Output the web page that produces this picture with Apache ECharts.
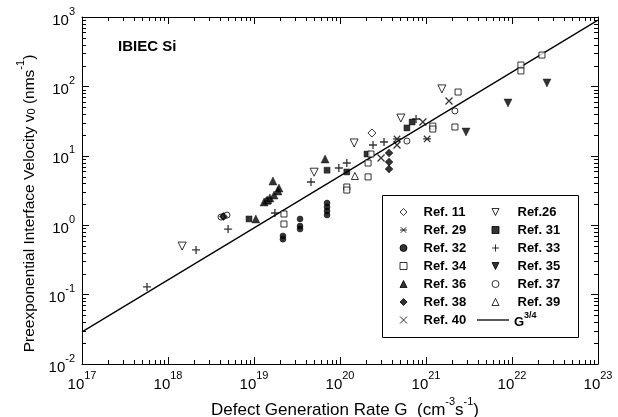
<!DOCTYPE html>
<html>
<head>
<meta charset="utf-8">
<script src="https://cdn.jsdelivr.net/npm/echarts@6/dist/echarts.min.js"></script>
<style>html,body{margin:0;padding:0;background:#fff;}#chart{width:618px;height:417px;}</style>
</head>
<body>
<div id="chart"></div>
<script>
// ---- axis ranges and tick labels (exponents of 10)
const xRange = [1e17, 1e23];
const yRange = [1e-2, 1e3];
const xTickExp = [17, 18, 19, 20, 21, 22, 23];
const yTickExp = [-2, -1, 0, 1, 2, 3];
const minorMult = [2, 3, 4, 5, 6, 7, 8, 9];

// ---- data: [G (cm^-3 s^-1), v0 (nm/s)]
const ref11 = [[2.35e20, 21.3]];
const ref26 = [[1.46e18, 0.50], [5.0e19, 5.8], [1.46e20, 15.3], [5.1e20, 35], [1.53e21, 92]];
const ref29 = [[4.6e20, 17.5], [1.03e21, 17.5]];
const ref31 = [[8.75e18, 1.23], [7.07e19, 6.2], [1.2e20, 5.85], [2.06e20, 10.6], [6.0e20, 25.2], [6.9e20, 30.7]];
const ref32 = [[2.17e19, 0.70], [2.17e19, 0.63], [3.43e19, 1.23], [3.43e19, 0.97], [3.43e19, 0.88],
               [7.07e19, 2.09], [7.07e19, 1.83], [7.07e19, 1.6], [7.07e19, 1.4]];
const ref33 = [[5.7e17, 0.129], [2.12e18, 0.44], [5.0e18, 0.88], [1.75e19, 1.5], [4.6e19, 4.19],
               [9.7e19, 6.67], [1.2e20, 7.87], [2.42e20, 14.3], [3.25e20, 15.8], [7.66e20, 33.9]];
const ref34 = [[1.46e19, 2.23], [2.23e19, 1.45], [2.23e19, 1.04], [1.2e20, 3.55], [1.2e20, 3.21],
               [2.12e20, 4.96], [2.12e20, 7.87], [2.29e20, 10.6], [1.2e21, 26.8], [1.2e21, 24.3],
               [2.17e21, 26], [2.36e21, 83], [1.27e22, 203], [1.27e22, 167], [2.23e22, 283]];
const ref35 = [[2.92e21, 22], [8.98e21, 57.7], [2.55e22, 112]];
const ref36 = [[1.05e19, 1.23], [1.31e19, 2.16], [1.42e19, 2.31], [1.53e19, 2.47], [1.71e19, 2.72],
               [1.9e19, 3.11], [1.95e19, 3.44], [1.66e19, 4.34], [6.7e19, 9.0]];
const ref37 = [[4.13e18, 1.31], [4.48e18, 1.35], [4.85e18, 1.40], [6.0e20, 16.3], [2.17e21, 44.3]];
const ref38 = [[4.4e18, 1.33], [3.72e20, 11.0], [3.72e20, 8.15], [3.72e20, 6.46]];
const ref39 = [[1.49e20, 5.12]];
const ref40 = [[3.0e20, 9.3], [4.6e20, 14.3], [9.2e20, 30.7], [1.85e21, 61.7]];
// G^(3/4) guide line end points
const fitG = [1e17, 1e23];
const fitV = [0.029, 900];

const FONT = "'Liberation Sans', Arial, Helvetica, sans-serif";
const PLUS = 'path://M5,0L5,10M0,5L10,5';
const CROSS = 'path://M0,0L10,10M10,0L0,10';
const ASTER = 'path://M1,1L9,9M9,1L1,9M0,5L10,5';
const TRI_DOWN = 'path://M0,0L10,0L5,10Z';

function mk(name, data, symbol, size, kind, rot) {
  let itemStyle;
  if (kind === 'fill') itemStyle = {color: '#000', borderColor: '#000', borderWidth: 0.5};
  else if (kind === 'open') itemStyle = {color: '#fff', borderColor: '#000', borderWidth: 1};
  else itemStyle = {color: '#000', borderColor: '#000', borderWidth: 1.3};
  return {
    type: 'scatter', name: name, data: data, symbol: symbol, symbolSize: size,
    symbolRotate: rot || 0, symbolKeepAspect: true, itemStyle: itemStyle,
    emphasis: {disabled: true}, z: 4, xAxisIndex: 0, yAxisIndex: 0
  };
}

function minorTicks(axis) {
  const vals = [];
  const exps = (axis === 'x' ? xTickExp : yTickExp).slice(0, -1);
  exps.forEach(e => minorMult.forEach(m => vals.push(m * Math.pow(10, e))));
  return {
    type: 'custom', name: 'minor-' + axis, silent: true, z: 2, clip: false,
    xAxisIndex: 0, yAxisIndex: 0,
    data: vals.map(v => axis === 'x' ? [v, 1] : [1e20, v]),
    renderItem: function (params, api) {
      const cs = params.coordSys;
      const p = api.coord([api.value(0), api.value(1)]);
      const L = 4;
      const st = {stroke: '#000', lineWidth: 1};
      if (axis === 'x') {
        const x = Math.round(p[0]) + 0.5;
        const b = cs.y + cs.height, t = cs.y;
        return {type: 'group', children: [
          {type: 'line', shape: {x1: x, y1: b, x2: x, y2: b - L}, style: st},
          {type: 'line', shape: {x1: x, y1: t, x2: x, y2: t + L}, style: st}]};
      } else {
        const y = Math.round(p[1]) + 0.5;
        const l = cs.x, r = cs.x + cs.width;
        return {type: 'group', children: [
          {type: 'line', shape: {x1: l, y1: y, x2: l + L, y2: y}, style: st},
          {type: 'line', shape: {x1: r, y1: y, x2: r - L, y2: y}, style: st}]};
      }
    }
  };
}

const expLabel = v => '{b|10}{e|' + Math.round(Math.log10(v)) + '}';
const labRich = {
  b: {fontSize: 15, fontFamily: FONT, color: '#000', lineHeight: 22, verticalAlign: 'bottom'},
  e: {fontSize: 11, fontFamily: FONT, color: '#000', lineHeight: 10, verticalAlign: 'top'}
};
const lineSt = {color: '#000', width: 1};

function axis(kind, pos, range, main) {
  return {
    type: 'log', logBase: 10, min: range[0], max: range[1], position: pos,
    splitNumber: kind === 'x' ? 6 : 5,
    axisLine: {show: true, onZero: false, lineStyle: lineSt},
    axisTick: {show: true, inside: true, length: 7, lineStyle: lineSt},
    splitLine: {show: false}, minorTick: {show: false},
    axisLabel: main ? {
      show: true, margin: kind === 'x' ? 6 : 7, formatter: expLabel, rich: labRich,
      showMinLabel: true, showMaxLabel: true, hideOverlap: false
    } : {show: false}
  };
}

const xMain = axis('x', 'bottom', xRange, true);
xMain.name = '{t|Defect Generation Rate G  (cm}{s|-3}{t|s}{s|-1}{t|)}';
xMain.nameLocation = 'middle';
xMain.nameGap = 25;
xMain.nameTextStyle = {
  padding: [0, 0, 0, 10],
  rich: {
    t: {fontSize: 17, fontFamily: FONT, color: '#000', lineHeight: 22, verticalAlign: 'bottom'},
    s: {fontSize: 11, fontFamily: FONT, color: '#000', lineHeight: 10, verticalAlign: 'top'}
  }
};
const yMain = axis('y', 'left', yRange, true);
yMain.name = '{t|Preexponential Interface Velocity v}{u|0}{t| (nms}{s|-1}{t|)}';
yMain.nameLocation = 'middle';
yMain.nameRotate = 90;
yMain.nameGap = 27;
yMain.nameTextStyle = {
  padding: [0, 26, 0, 0],
  rich: {
    t: {fontSize: 15.5, fontFamily: FONT, color: '#000', lineHeight: 22, verticalAlign: 'bottom'},
    s: {fontSize: 11, fontFamily: FONT, color: '#000', lineHeight: 10, verticalAlign: 'top'},
    u: {fontSize: 11, fontFamily: FONT, color: '#000', lineHeight: 12, verticalAlign: 'bottom'}
  }
};

function legendCol(left, top, padL, names) {
  return {
    orient: 'vertical', padding: 0, itemGap: 5, itemWidth: 7, itemHeight: 7,
    selectedMode: false, inactiveColor: '#000', left: left, top: top, data: names,
    textStyle: {fontSize: 13, fontWeight: 'bold', fontFamily: FONT, color: '#000', padding: [0, 0, 0, padL]},
    itemStyle: {borderColor: '#000', borderWidth: 1}
  };
}

const series = [
  mk('Ref. 11', ref11, 'diamond', 8, 'open'),
  mk('Ref.26', ref26, 'triangle', 8, 'open', 180),
  mk('Ref. 29', ref29, ASTER, 8, 'stroke'),
  mk('Ref. 31', ref31, 'rect', 6, 'fill'),
  mk('Ref. 32', ref32, 'circle', 6, 'fill'),
  mk('Ref. 33', ref33, PLUS, 8, 'stroke'),
  mk('Ref. 34', ref34, 'rect', 6, 'open'),
  mk('Ref. 35', ref35, 'triangle', 8, 'fill', 180),
  mk('Ref. 36', ref36, 'triangle', 8, 'fill'),
  mk('Ref. 37', ref37, 'circle', 6, 'open'),
  mk('Ref. 38', ref38, 'diamond', 8, 'fill'),
  mk('Ref. 39', ref39, 'triangle', 7, 'open'),
  mk('Ref. 40', ref40, CROSS, 7, 'stroke'),
  {
    type: 'line', name: 'G3/4', data: fitG.map((g, i) => [g, fitV[i]]),
    symbol: 'none', lineStyle: {color: '#000', width: 1.3}, itemStyle: {color: '#000'},
    z: 3, silent: true, xAxisIndex: 0, yAxisIndex: 0
  },
  minorTicks('x'),
  minorTicks('y')
];

const chart = echarts.init(document.getElementById('chart'), null, {renderer: 'canvas'});
chart.setOption({
  animation: false,
  backgroundColor: '#fff',
  grid: {left: 82, right: 20, top: 17, bottom: 53, containLabel: false, outerBoundsMode: 'none'},
  title: {
    text: 'IBIEC Si', left: 118, top: 39, padding: 0,
    textStyle: {fontSize: 15, fontWeight: 'bold', fontFamily: FONT, color: '#000'}
  },
  xAxis: [xMain, axis('x', 'top', xRange, false)],
  yAxis: [yMain, axis('y', 'right', yRange, false)],
  legend: [
    legendCol(399.5, 205.5, 11.5, ['Ref. 11', 'Ref. 29', 'Ref. 32', 'Ref. 34', 'Ref. 36', 'Ref. 38', 'Ref. 40']),
    legendCol(491.5, 205.5, 13.5, [{name: 'Ref.26', icon: TRI_DOWN}, 'Ref. 31', 'Ref. 33',
      {name: 'Ref. 35', icon: TRI_DOWN}, 'Ref. 37', 'Ref. 39']),
    {
      orient: 'vertical', padding: 0, left: 477, top: 311, itemWidth: 32, itemHeight: 1.3,
      selectedMode: false, inactiveColor: '#000',
      data: [{name: 'G3/4', icon: 'rect'}],
      itemStyle: {color: '#000', borderWidth: 0},
      formatter: () => '{g|G}{s|3/4}',
      textStyle: {fontSize: 13, fontWeight: 'bold', fontFamily: FONT, color: '#000',
        rich: {
          g: {fontSize: 13, fontWeight: 'bold', fontFamily: FONT, color: '#000', lineHeight: 18, verticalAlign: 'bottom'},
          s: {fontSize: 9, fontWeight: 'bold', fontFamily: FONT, color: '#000', lineHeight: 9, verticalAlign: 'top'}
        }}
    }
  ],
  graphic: [{
    type: 'rect', silent: true, z: 10,
    shape: {x: 382.5, y: 195.5, width: 196, height: 142},
    style: {fill: 'none', stroke: '#000', lineWidth: 1}
  }],
  series: series
});
</script>
</body>
</html>
